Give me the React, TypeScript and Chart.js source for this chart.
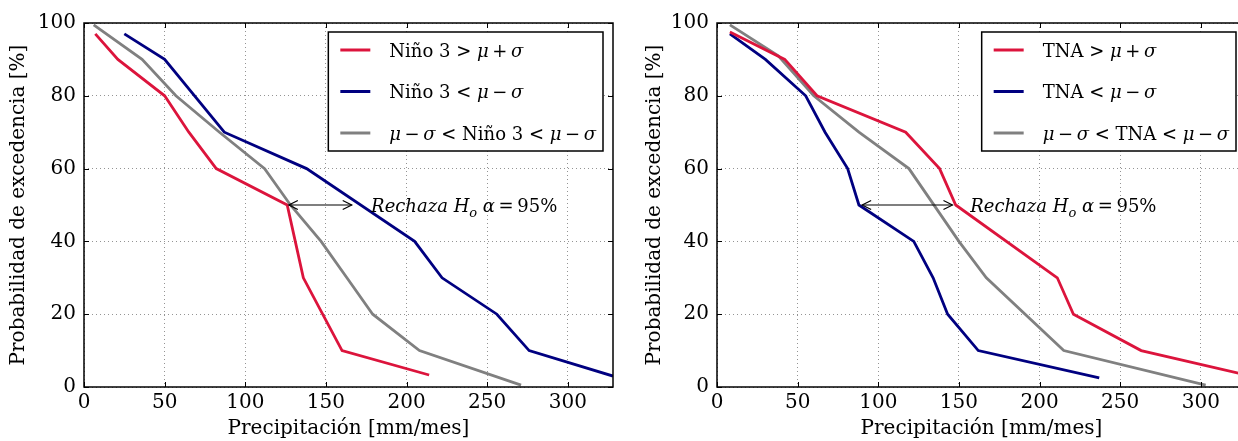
import React, { useEffect, useRef } from "react";
import { Chart, registerables } from "chart.js";

Chart.register(...registerables);

const SERIF = '"DejaVu Serif", "Liberation Serif", serif';

// Axis ticks
const X_TICKS = [0, 50, 100, 150, 200, 250, 300];
const Y_TICKS = [0, 20, 40, 60, 80, 100];
const X_MAX = 328;

// Left panel: Niño 3
const ninoHighX = [7, 21, 50, 65, 82, 126, 131, 136, 160, 214];
const ninoHighY = [97, 90, 80, 70, 60, 50, 40, 30, 10, 3.3];
const ninoLowX = [25, 50, 87, 138, 205, 222, 256, 276, 328];
const ninoLowY = [97, 90, 70, 60, 40, 30, 20, 10, 3];
const ninoMidX = [6, 36, 57, 84, 112, 128, 147, 163, 179, 208, 271];
const ninoMidY = [99.5, 90, 80, 70, 60, 50, 40, 30, 20, 10, 0.5];

// Right panel: TNA
const tnaHighX = [8, 42, 62, 117, 138, 148, 211, 221, 263, 328];
const tnaHighY = [97.5, 90, 80, 70, 60, 50, 30, 20, 10, 3.3];
const tnaLowX = [8, 30, 55, 67, 81, 88, 122, 134, 143, 162, 237];
const tnaLowY = [97, 90, 80, 70, 60, 50, 40, 30, 20, 10, 2.5];
const tnaMidX = [8, 38, 60, 88, 119, 150, 167, 215, 303];
const tnaMidY = [99.5, 91, 80, 70, 60, 40, 30, 10, 0.5];

// Annotation (Rechaza H_o) arrows: [from, to] at probability level
const ninoArrow = [127, 166];
const tnaArrow = [90, 146];
const arrowLevel = 50;
const ninoTextX = 178;
const tnaTextX = 157;

const RED = "#DC143C";
const BLUE = "#000080";
const GRAY = "#808080";

type Run = { t: string; it?: boolean; sub?: boolean };

const TS = "\u2009";
const ninoLabels: Run[][] = [
  [{ t: "Niño 3 > " }, { t: "μ", it: true }, { t: TS + "+" + TS }, { t: "σ", it: true }],
  [{ t: "Niño 3 < " }, { t: "μ", it: true }, { t: TS + "−" + TS }, { t: "σ", it: true }],
  [
    { t: "μ", it: true }, { t: TS + "−" + TS }, { t: "σ", it: true },
    { t: " < Niño 3 < " },
    { t: "μ", it: true }, { t: TS + "−" + TS }, { t: "σ", it: true },
  ],
];
const tnaLabels: Run[][] = [
  [{ t: "TNA > " }, { t: "μ", it: true }, { t: TS + "+" + TS }, { t: "σ", it: true }],
  [{ t: "TNA < " }, { t: "μ", it: true }, { t: TS + "−" + TS }, { t: "σ", it: true }],
  [
    { t: "μ", it: true }, { t: TS + "−" + TS }, { t: "σ", it: true },
    { t: " < TNA < " },
    { t: "μ", it: true }, { t: TS + "−" + TS }, { t: "σ", it: true },
  ],
];
const annotRuns: Run[] = [
  { t: "Rechaza ", it: true },
  { t: "H", it: true },
  { t: "o", it: true, sub: true },
  { t: " α", it: true },
  { t: TS + "=" + TS },
  { t: "95%" },
];

function runFont(r: Run, size: number) {
  const s = r.sub ? Math.round(size * 0.7) : size;
  return `${r.it ? "italic " : ""}${s}px ${SERIF}`;
}
function measureRuns(ctx: CanvasRenderingContext2D, runs: Run[], size: number) {
  let w = 0;
  for (const r of runs) {
    ctx.font = runFont(r, size);
    w += ctx.measureText(r.t).width;
  }
  return w;
}
function drawRuns(ctx: CanvasRenderingContext2D, runs: Run[], x: number, baseline: number, size: number) {
  ctx.textAlign = "left";
  ctx.textBaseline = "alphabetic";
  for (const r of runs) {
    ctx.font = runFont(r, size);
    ctx.fillText(r.t, x, baseline + (r.sub ? size * 0.25 : 0));
    x += ctx.measureText(r.t).width;
  }
  return x;
}

function line(ctx: CanvasRenderingContext2D, x1: number, y1: number, x2: number, y2: number) {
  ctx.beginPath();
  ctx.moveTo(x1, y1);
  ctx.lineTo(x2, y2);
  ctx.stroke();
}

const panelPlugin = {
  id: "panel",
  afterDatasetsDraw(chart: any, _args: any, opts: any) {
    const { ctx, chartArea: a, scales } = chart;
    const x = scales.x;
    const y = scales.y;
    ctx.save();
    ctx.setLineDash([]);
    // inward ticks
    ctx.strokeStyle = "#000";
    ctx.lineWidth = 1;
    for (const v of X_TICKS) {
      const px = Math.round(x.getPixelForValue(v)) + 0.5;
      line(ctx, px, a.bottom, px, a.bottom - 5);
      line(ctx, px, a.top, px, a.top + 5);
    }
    for (const v of Y_TICKS) {
      const py = Math.round(y.getPixelForValue(v)) + 0.5;
      line(ctx, a.left, py, a.left + 5, py);
      line(ctx, a.right, py, a.right - 5, py);
    }
    // frame
    ctx.lineWidth = 1.5;
    ctx.strokeRect(a.left, a.top, a.right - a.left, a.bottom - a.top);

    // annotation arrow
    const ay = y.getPixelForValue(opts.level);
    const ax1 = x.getPixelForValue(opts.arrow[0]);
    const ax2 = x.getPixelForValue(opts.arrow[1]);
    ctx.lineWidth = 1.2;
    ctx.strokeStyle = "#000";
    line(ctx, ax1, ay, ax2, ay);
    const hl = 9, hw = 4.5;
    ctx.beginPath();
    ctx.moveTo(ax1 + hl, ay - hw);
    ctx.lineTo(ax1, ay);
    ctx.lineTo(ax1 + hl, ay + hw);
    ctx.moveTo(ax2 - hl, ay - hw);
    ctx.lineTo(ax2, ay);
    ctx.lineTo(ax2 - hl, ay + hw);
    ctx.stroke();
    ctx.fillStyle = "#000";
    drawRuns(ctx, annotRuns, x.getPixelForValue(opts.textX), ay + 7, 18);

    // legend
    const size = 18;
    const labels: Run[][] = opts.labels;
    const colors: string[] = opts.colors;
    let maxW = 0;
    for (const l of labels) maxW = Math.max(maxW, measureRuns(ctx, l, size));
    const boxRight = a.right - 10;
    const boxW = 61 + maxW + 7;
    const boxLeft = boxRight - boxW;
    const boxTop = a.top + 9;
    const boxH = 119;
    ctx.fillStyle = "#fff";
    ctx.fillRect(boxLeft, boxTop, boxW, boxH);
    ctx.lineWidth = 1.5;
    ctx.strokeStyle = "#000";
    ctx.strokeRect(boxLeft, boxTop, boxW, boxH);
    const rows = [18, 59.5, 101];
    labels.forEach((l, i) => {
      const cy = boxTop + rows[i];
      ctx.strokeStyle = colors[i];
      ctx.lineWidth = 3;
      line(ctx, boxLeft + 12, cy, boxLeft + 42, cy);
      ctx.fillStyle = "#000";
      drawRuns(ctx, l, boxLeft + 61, cy + 6.5, size);
    });
    ctx.restore();
  },
};

type Series = { xs: number[]; ys: number[]; color: string };

function makeConfig(series: Series[], panelOpts: any, yTitlePad: number): any {
  const tickFont = { family: SERIF, size: 20 };
  const gridColor = "rgba(0,0,0,0.42)";
  return {
    type: "line",
    data: {
      datasets: series.map((s) => ({
        data: s.xs.map((v, i) => ({ x: v, y: s.ys[i] })),
        borderColor: s.color,
        borderWidth: 2.8,
        pointRadius: 0,
        tension: 0,
        fill: false,
      })),
    },
    options: {
      animation: false,
      responsive: false,
      maintainAspectRatio: false,
      layout: { padding: { left: 0, right: 27, top: 23, bottom: 0 } },
      plugins: {
        legend: { display: false },
        tooltip: { enabled: false },
        panel: panelOpts,
      },
      scales: {
        x: {
          type: "linear",
          min: 0,
          max: X_MAX,
          afterBuildTicks: (sc: any) => {
            sc.ticks = X_TICKS.map((v) => ({ value: v }));
          },
          ticks: { font: tickFont, color: "#000", padding: 4, maxRotation: 0, autoSkip: false },
          grid: { color: gridColor, lineWidth: 1, drawTicks: false, tickLength: 0 },
          border: { display: false, dash: [1, 3] },
          title: {
            display: true,
            text: "Precipitación [mm/mes]",
            font: { family: SERIF, size: 20 },
            color: "#000",
            padding: { top: 0, bottom: 0 },
          },
          afterFit: (sc: any) => {
            sc.height = 54;
          },
        },
        y: {
          type: "linear",
          min: 0,
          max: 100,
          afterBuildTicks: (sc: any) => {
            sc.ticks = Y_TICKS.map((v) => ({ value: v }));
          },
          ticks: { font: tickFont, color: "#000", padding: 8, autoSkip: false },
          grid: { color: gridColor, lineWidth: 1, drawTicks: false, tickLength: 0 },
          border: { display: false, dash: [1, 3] },
          title: {
            display: true,
            text: "Probabilidad de excedencia [%]",
            font: { family: SERIF, size: 20 },
            color: "#000",
            padding: { top: yTitlePad, bottom: 0 },
          },
          afterFit: (sc: any) => {
            sc.width = 84;
          },
        },
      },
    },
    plugins: [panelPlugin],
  };
}

function Panel(props: { series: Series[]; panelOpts: any; left: number; yTitlePad: number }) {
  const ref = useRef<HTMLCanvasElement | null>(null);
  useEffect(() => {
    if (!ref.current) return;
    const chart = new Chart(ref.current, makeConfig(props.series, props.panelOpts, props.yTitlePad));
    return () => chart.destroy();
  }, []);
  return (
    <canvas
      ref={ref}
      width={640}
      height={441}
      style={{ position: "absolute", left: props.left, top: 0, width: 640, height: 441 }}
    />
  );
}

export default function App() {
  const ninoSeries: Series[] = [
    { xs: ninoHighX, ys: ninoHighY, color: RED },
    { xs: ninoLowX, ys: ninoLowY, color: BLUE },
    { xs: ninoMidX, ys: ninoMidY, color: GRAY },
  ];
  const tnaSeries: Series[] = [
    { xs: tnaHighX, ys: tnaHighY, color: RED },
    { xs: tnaLowX, ys: tnaLowY, color: BLUE },
    { xs: tnaMidX, ys: tnaMidY, color: GRAY },
  ];
  return (
    <div
      style={{
        position: "fixed",
        left: 0,
        top: 0,
        width: 1238,
        height: 441,
        overflow: "hidden",
        background: "#fff",
      }}
    >
      <Panel
        series={ninoSeries}
        left={0}
        yTitlePad={7}
        panelOpts={{
          arrow: ninoArrow,
          level: arrowLevel,
          textX: ninoTextX,
          labels: ninoLabels,
          colors: [RED, BLUE, GRAY],
        }}
      />
      <Panel
        series={tnaSeries}
        left={633}
        yTitlePad={10}
        panelOpts={{
          arrow: tnaArrow,
          level: arrowLevel,
          textX: tnaTextX,
          labels: tnaLabels,
          colors: [RED, BLUE, GRAY],
        }}
      />
    </div>
  );
}
